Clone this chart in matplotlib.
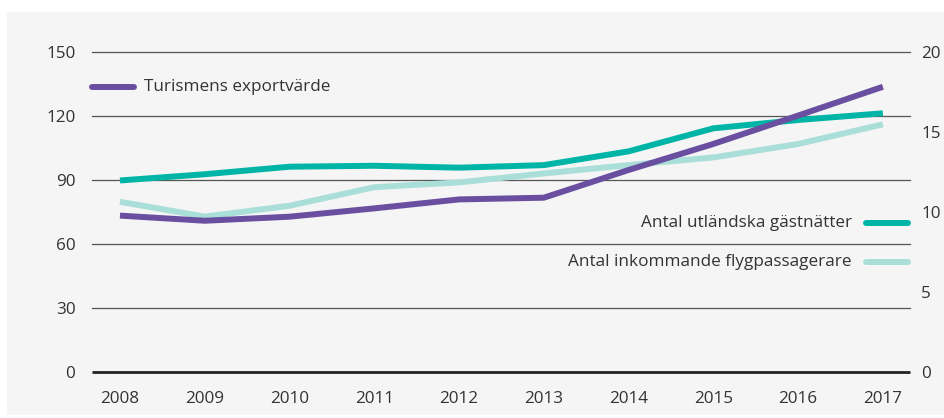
import matplotlib
matplotlib.use("Agg")
import matplotlib.pyplot as plt
import matplotlib.transforms as mtransforms
from matplotlib.lines import Line2D
from matplotlib.patches import Rectangle

plt.rcParams['font.family'] = ['Open Sans', 'DejaVu Sans']

years = [2008, 2009, 2010, 2011, 2012, 2013, 2014, 2015, 2016, 2017]
# Export value of tourism (left axis)
exportvarde = [73.3, 70.9, 72.8, 76.7, 80.9, 81.7, 94.7, 106.9, 120.2, 133.7]
# Foreign guest nights, millions (right axis)
gastnatter = [11.97, 12.36, 12.83, 12.89, 12.77, 12.93, 13.79, 15.23, 15.75, 16.17]
# Incoming air passengers, millions (right axis)
flygpassagerare = [10.64, 9.71, 10.39, 11.55, 11.85, 12.41, 12.93, 13.41, 14.25, 15.48]

left_ticks = [0, 30, 60, 90, 120, 150]
right_ticks = [0, 5, 10, 15, 20]

PURPLE = '#6a4fa1'
TEAL = '#00b5a6'
LIGHT_TEAL = '#aadfd9'
TEXT = '#333333'
GRID = '#555555'
FS = 12.3

W, H = 945, 418
fig = plt.figure(figsize=(W / 100, H / 100), dpi=100)
fig.patch.set_facecolor('white')
fig.patches.append(Rectangle((7 / W, 3 / H), 1 - 7 / W, (H - 15) / H,
                             transform=fig.transFigure, facecolor='#f5f5f5',
                             edgecolor='none', zorder=-10))

rect = [92 / W, 46 / H, 818 / W, 320 / H]
ax_r = fig.add_axes(rect, zorder=1)
ax_l = ax_r.twinx()
ax_l.set_zorder(2)
ax_l.yaxis.tick_left()
ax_r.yaxis.tick_right()

for a in (ax_l, ax_r):
    a.patch.set_visible(False)
    for s in a.spines.values():
        s.set_visible(False)
ax_r.set_xlim(2007.67, 2017.32)

ax_l.set_ylim(0, 150)
ax_r.set_ylim(0, 20)

# horizontal grid at the left-axis ticks, drawn beneath every line
grid_tr = mtransforms.blended_transform_factory(ax_r.transAxes, ax_l.transData)
for v in left_ticks:
    if v == 0:
        ax_r.plot([0, 1], [v, v], transform=grid_tr, color='#222222', lw=2.0,
                  clip_on=False, zorder=1, solid_capstyle='butt')
    else:
        ax_r.plot([0, 1], [v, v], transform=grid_tr, color=GRID, lw=0.9,
                  clip_on=False, zorder=1)

lw = 4.3
ax_r.plot(years, flygpassagerare, color=LIGHT_TEAL, lw=lw, zorder=2,
          solid_capstyle='butt', solid_joinstyle='round')
ax_r.plot(years, gastnatter, color=TEAL, lw=lw, zorder=3,
          solid_capstyle='butt', solid_joinstyle='round')
ax_l.plot(years, exportvarde, color=PURPLE, lw=lw, zorder=4,
          solid_capstyle='butt', solid_joinstyle='round')

ax_l.set_yticks(left_ticks)
ax_l.set_yticklabels([str(v) for v in left_ticks])
ax_r.set_yticks(right_ticks)
ax_r.set_yticklabels([str(v) for v in right_ticks])
ax_r.set_xticks(years)
ax_r.set_xticklabels([str(y) for y in years])

ax_l.tick_params(axis='y', length=0, pad=12, labelsize=FS, labelcolor=TEXT)
ax_r.tick_params(axis='y', length=0, pad=8, labelsize=FS, labelcolor=TEXT)
ax_r.tick_params(axis='x', length=0, pad=14, labelsize=FS, labelcolor=TEXT)

# legend entries
def legend_entry(x0, x1, y, label, color, text_left):
    fy = 1 - y / H
    fig.add_artist(Line2D([x0 / W, x1 / W], [fy, fy], transform=fig.transFigure,
                          color=color, lw=lw, solid_capstyle='round'))
    if text_left:
        fig.text((x0 - 14) / W, fy, label, ha='right', va='center',
                 fontsize=FS, color=TEXT)
    else:
        fig.text((x1 + 10) / W, fy, label, ha='left', va='center',
                 fontsize=FS, color=TEXT)

legend_entry(92, 134, 87, 'Turismens exportvärde', PURPLE, False)
legend_entry(866, 908, 223, 'Antal utländska gästnätter', TEAL, True)
legend_entry(866, 908, 262, 'Antal inkommande flygpassagerare', LIGHT_TEAL, True)

fig.savefig('out.png', dpi=100, facecolor=fig.get_facecolor())
